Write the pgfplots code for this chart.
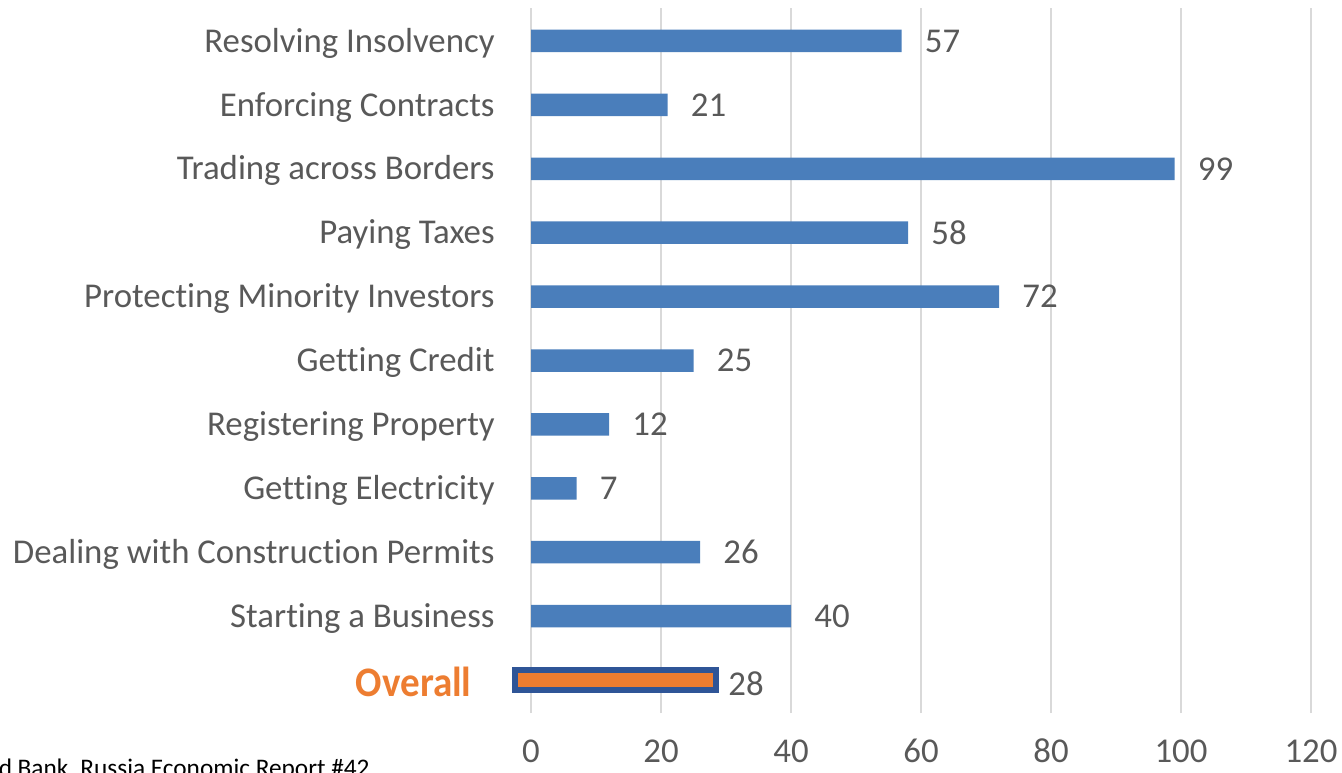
\documentclass[border=0pt]{standalone}
\usepackage{fontspec}
\setmainfont{Carlito}[Ligatures=CommonOff]
\usepackage{graphicx}
\usepackage{pgfplots}
\pgfplotsset{compat=1.18}

\definecolor{barblue}{HTML}{4A7EBB}
\definecolor{overallorange}{HTML}{ED7D31}
\definecolor{edgeblue}{HTML}{2F5597}
\definecolor{gridgray}{HTML}{D9D9D9}
\definecolor{labelgray}{HTML}{595959}

\newcommand{\lbl}{\fontsize{17.4pt}{20pt}\selectfont}

\begin{document}
\begin{tikzpicture}
\begin{axis}[
    at={(265.5pt,29.5pt)}, anchor=south west,
    scale only axis, width=390pt, height=352.5pt,
    xmin=0, xmax=120, ymin=-0.516, ymax=10.516,
    xtick={0,20,...,120},
    xmajorgrids, grid style={color=gridgray, line width=1pt},
    ytick={1,...,10},
    yticklabels={Starting a Business, Dealing with Construction Permits,
        Getting Electricity, Registering Property, Getting Credit,
        Protecting Minority Investors, Paying Taxes, Trading across Borders,
        Enforcing Contracts, Resolving Insolvency},
    axis line style={draw=none}, major tick length=0pt,
    tick label style={font=\lbl, text=labelgray, inner sep=0pt},
    yticklabel style={anchor=base east, xshift=-18pt, yshift=-5.6pt},
    xticklabel style={anchor=base, yshift=-24.5pt},
    /pgf/number format/assume math mode=true,
    clip=false,
]
\addplot[xbar, bar shift=0pt, bar width=11.25pt, fill=barblue, draw=none,
    point meta=x, nodes near coords,
    nodes near coords style={anchor=west, xshift=11.5pt, inner sep=0pt,
        font=\lbl, text=labelgray}]
    coordinates {(40,1) (26,2) (7,3) (12,4) (25,5) (72,6) (58,7) (99,8) (21,9) (57,10)};
% Overall bar, framed and starting a little left of zero
\addplot[fill=overallorange, draw=edgeblue, line width=3pt]
    coordinates {(-2.46,-0.156) (28.46,-0.156) (28.46,0.156) (-2.46,0.156)} -- cycle;
\node[anchor=west, inner sep=0pt, font=\lbl, text=labelgray, xshift=4.5pt, yshift=-2pt]
    at (axis cs:28.92,0) {28};
\node[anchor=east, inner sep=0pt, text=overallorange, xshift=-29.5pt, yshift=-1pt]
    at (axis cs:0,0) {\scalebox{0.93}[1]{\fontsize{21pt}{24pt}\selectfont\bfseries Overall}};
\end{axis}
\node[anchor=base east, inner sep=0pt, font=\fontsize{12.65pt}{15pt}\selectfont]
    at (185pt,-2pt) {World Bank, Russia Economic Report \#42};
\pgfresetboundingbox
\path[use as bounding box] (0pt,0pt) rectangle (671pt,386pt);
\end{tikzpicture}
\end{document}
